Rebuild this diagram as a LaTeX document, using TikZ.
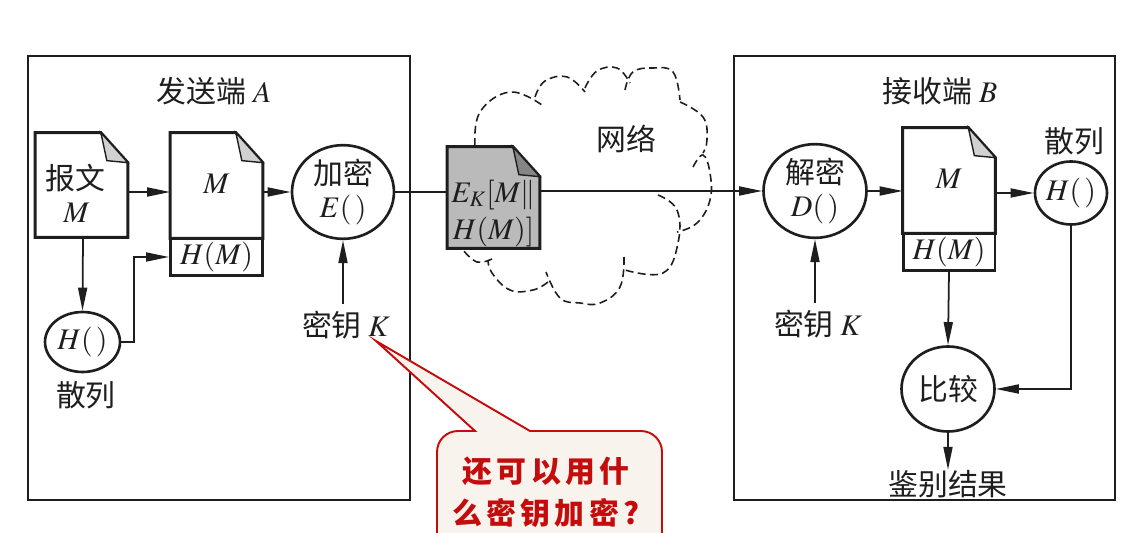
\documentclass[tikz,border=0pt]{standalone}
\usepackage{mathptmx}
\usepackage[no-math]{fontspec}
\setmainfont{Noto Sans CJK SC}
\newfontfamily\askfont[LetterSpace=14]{Noto Sans CJK SC}
\usetikzlibrary{arrows.meta,shapes.geometric,backgrounds}
\definecolor{askred}{RGB}{196,12,12}
\definecolor{askfill}{RGB}{248,243,236}
\definecolor{inkgray}{RGB}{30,30,30}
\tikzset{
    txt/.style={font=\fontsize{17}{19}\selectfont,text=inkgray,align=center,inner sep=0pt},
    sidebox/.style={draw=inkgray,line width=1.5pt},
    pagebody/.style={txt,minimum width=1.84cm,minimum height=#1,inner sep=0pt},
    hashrow/.style={txt,draw=inkgray,line width=1.7pt,minimum width=1.84cm,minimum height=0.74cm},
    func/.style={txt,ellipse,draw=inkgray,line width=1.5pt,minimum width=#1,inner sep=0pt},
    conn/.style={draw=inkgray,line width=1pt,-{Triangle[length=0.46cm,width=0.18cm]}},
    plainconn/.style={draw=inkgray,line width=1pt},
    cloudline/.style={draw=inkgray,line width=0.9pt,dash pattern=on 4.5pt off 2.5pt},
}
% outline of a page with its folded corner, under the node's text
\newcommand{\pagefold}[3]{
    \begin{scope}[on background layer]
        \draw[line width=1.7pt,draw=inkgray,fill=#2] (#1.south west) -- (#1.north west) -- ([xshift=-0.54cm]#1.north east) -- ([yshift=-0.6cm]#1.north east) -- (#1.south east) -- cycle;
        \draw[line width=0.8pt,draw=inkgray,fill=#3] ([xshift=-0.54cm]#1.north east) -- ([yshift=-0.6cm]#1.north east) -- ([xshift=-0.42cm,yshift=-0.56cm]#1.north east) -- cycle;
    \end{scope}
}
\begin{document}
\begin{tikzpicture}[x=0.02cm,y=-0.02cm]
    \clip (0,0) rectangle (1143,533);
    % sender and receiver frames
    \node[sidebox,minimum width=7.64cm,minimum height=8.88cm,inner sep=0pt] (sender) at (219,278) {};
    \node[sidebox,minimum width=7.62cm,minimum height=8.88cm,inner sep=0pt] (receiver) at (924.5,278) {};
    \node[txt] (sendertitle) at (214,91) {发送端 $A$};
    \node[txt] (receivertitle) at (940,91) {接收端 $B$};
    % cloud, lobe by lobe
    \foreach \lobe in {
        {(475,146) (480,112) (510,92) (542,105)},
        {(535,97) (545,81) (567,77) (585,92)},
        {(585,88) (597,71) (617,68) (630,83)},
        {(625,90) (633,72) (653,68) (673,72) (680,100)},
        {(680,102) (703,117) (707,140) (703,153)},
        {(693,167) (703,155) (710,173) (710,200) (697,223) (677,232)},
        {(658,195) (677,210) (678,243) (663,273) (625,270)},
        {(624,257) (620,287) (600,303) (580,303) (560,298) (546,272)},
        {(548,282) (533,290) (510,290) (492,273) (488,260)},
        {(492,259) (477,262) (463,250)}} {
        \draw[cloudline] plot[smooth,tension=0.7] coordinates \lobe;
    }
    \node[txt] (cloudlabel) at (626,139) {网络};
    % sender side
    \node[pagebody=2.08cm] (msg) at (81.5,185) {\rule{0pt}{0.85cm}报文\kern0.26cm\\$M$\kern0.2cm};
    \pagefold{msg}{white}{black!18}
    \node[func=1.5cm,minimum height=1.2cm] (hashleft) at (82.5,342) {$H(\,)$};
    \node[txt] (hashleftlabel) at (86,395) {散列};
    \node[pagebody=2.1cm] (msgplus) at (216.5,185.5) {\raisebox{0.08cm}{$M$}};
    \pagefold{msgplus}{white}{black!18}
    \node[hashrow] (msgplushash) at (216.5,257) {$H(M)$};
    \node[func=2.04cm,minimum height=1.84cm] (enc) at (343,192) {加密\\$E(\,)$};
    \node[txt] (keyleft) at (346,325) {密钥 $K$};
    \draw[conn] (msg.east |- 0,192) -- (msgplus.west |- 0,192);
    \draw[conn] (msg.south -| 83,0) -- (hashleft.north);
    \draw[conn] (hashleft.east) -- ++(13,0) |- (msgplushash.west);
    \draw[conn] (msgplus.east |- enc.west) -- (enc.west);
    \draw[conn] ([yshift=0.14cm]keyleft.north -| enc.south) -- (enc.south);
    % packet in the network
    \node[pagebody=2.02cm,font=\fontsize{17}{21}\selectfont] (packet) at (493.5,197.5) {\rule{0pt}{1.08cm}$E_K[M\Vert$\\$H(M)]$};
    \pagefold{packet}{black!27}{black!48}
    % receiver side
    \node[func=2.06cm,minimum height=1.84cm] (dec) at (815,191) {解密\\$D(\,)$};
    \node[txt] (keyright) at (818,324) {密钥 $K$};
    \node[pagebody=2.1cm] (msgback) at (949,180.5) {\raisebox{0.08cm}{$M$}};
    \pagefold{msgback}{white}{black!18}
    \node[hashrow] (msgbackhash) at (949,252) {$H(M)$};
    \node[func=1.44cm,minimum height=1.26cm] (hashright) at (1071,193) {$H(\,)$};
    \node[txt] (hashrightlabel) at (1074,141) {散列};
    \node[func=1.86cm,minimum height=1.7cm] (cmp) at (948,389) {比较};
    \node[txt] (result) at (948,484) {鉴别结果};
    \draw[plainconn] (enc.east) -- (packet.west |- enc.east);
    \draw[conn] (packet.east |- dec.west) -- (dec.west);
    \draw[conn] ([yshift=0.14cm]keyright.north -| dec.south) -- (dec.south);
    \draw[conn] (dec.east) -- (msgback.west |- dec.east);
    \draw[conn] (msgback.east |- hashright.west) -- (hashright.west);
    \draw[conn] (msgbackhash.south) -- (cmp.north);
    \draw[conn] (hashright.south) |- (cmp.east);
    \draw[conn] (cmp.south) -- (result.north);
    % question balloon
    \coordinate (asktip) at (376,341);
    \draw[draw=askred,line width=1.1pt,fill=askfill] (475,431) -- (asktip) -- (530,431) {[rounded corners=0.42cm] -- (662,431) -- (662,570) -- (437,570) -- (437,431)} -- cycle;
    \node[txt,font=\fontsize{17}{24}\selectfont\bfseries\askfont,text=askred] (asktext) at (546,492) {还可以用什\\么密钥加密?};
\end{tikzpicture}
\end{document}
